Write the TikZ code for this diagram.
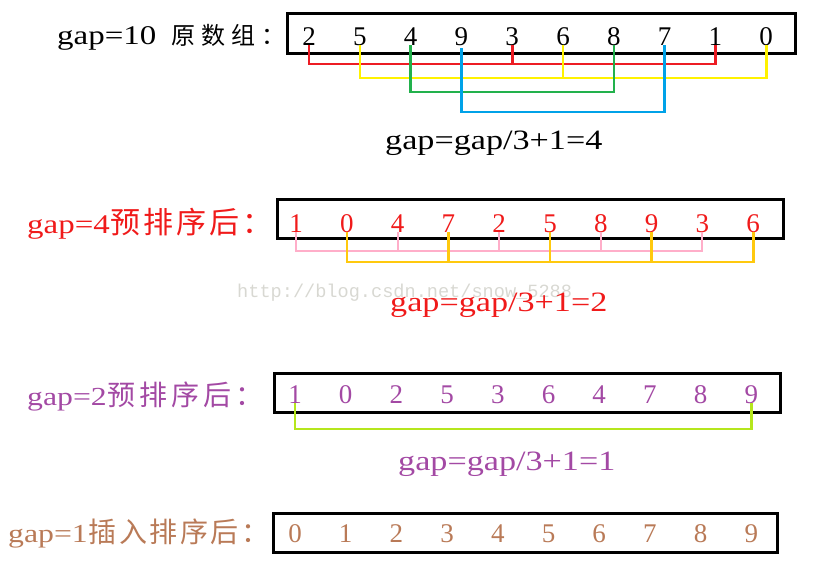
\documentclass[tikz,border=0pt]{standalone}
\usepackage{fontspec}
\setmainfont{Liberation Serif}
\newfontfamily\cjk{Noto Sans CJK SC}
\newfontfamily\latw[FakeStretch=1.22]{Liberation Serif}
\newfontfamily\wmfont{Liberation Mono}
\definecolor{cred}{HTML}{ED1C24}
\definecolor{cyel}{HTML}{FFF200}
\definecolor{cgrn}{HTML}{22B14C}
\definecolor{cblu}{HTML}{00A2E8}
\definecolor{cpink}{HTML}{FFAEC9}
\definecolor{cgold}{HTML}{FFC90E}
\definecolor{clime}{HTML}{B5E61D}
\definecolor{ctred}{HTML}{F01A1A}
\definecolor{cpur}{HTML}{A349A4}
\definecolor{cbrn}{HTML}{B97A57}
\definecolor{cwm}{HTML}{D8D8D2}
\begin{document}
\begin{tikzpicture}[x=1pt,y=-1pt,
  arr/.style={draw=black, line width=3pt, inner sep=0pt},
  dig/.style={inner sep=0pt, anchor=base, font=\fontsize{27}{30}\selectfont},
  lbl/.style={inner sep=0pt, anchor=base west},
  brk/.style={line width=2.6pt, line cap=butt, line join=miter}]
\useasboundingbox (0,0) rectangle (822,568);

% ---------- row 1 ----------
\node[lbl] (l1) at (57,44) {\latw\fontsize{27}{30}\selectfont gap=10\kern15pt{\cjk\fontsize{24}{28}\selectfont 原\kern6pt 数\kern6pt 组\kern6pt ：}};
\node[arr, minimum width=508pt, minimum height=40pt] (b1) at (541,33) {};
\foreach \d [count=\i] in {2,5,4,9,3,6,8,7,1,0}
  \node[dig] (a\i) at ({309+50.8*(\i-1)},45) {\d};
\coordinate (ry) at (0,64);
\coordinate (yy) at (0,78);
\coordinate (gy) at (0,92);
\coordinate (by) at (0,112);
\draw[brk, cred] (a1.base) -- (a1.base |- ry) -- (a9.base |- ry) -- (a9.base);
\draw[brk, cred] (a5.base) -- (a5.base |- ry);
\draw[brk, cyel] (a2.base) -- (a2.base |- yy) -- (a10.base |- yy) -- (a10.base);
\draw[brk, cyel] (a6.base) -- (a6.base |- yy);
\draw[brk, cgrn] (a3.base) -- (a3.base |- gy) -- (a7.base |- gy) -- (a7.base);
\draw[brk, cblu] ([yshift=-3pt]a4.base) -- (a4.base |- by) -- (a8.base |- by) -- (a8.base);
\node[lbl, font=\latw\fontsize{28}{30}\selectfont] (f1) at (385,149) {gap=gap/3+1=4};

% ---------- row 2 ----------
\node[lbl, text=ctred] (l2) at (27,233) {\latw\fontsize{27}{32}\selectfont gap=4{\cjk\fontsize{30}{32}\selectfont \kern1pt 预\kern3pt 排\kern3pt 序\kern3pt 后\kern3pt ：}};
\node[arr, minimum width=506pt, minimum height=39pt] (b2) at (530,218.5) {};
\foreach \d [count=\i] in {1,0,4,7,2,5,8,9,3,6}
  \node[dig, text=ctred] (c\i) at ({296+50.8*(\i-1)},232) {\d};
\coordinate (py) at (0,251);
\coordinate (oy) at (0,262);
\draw[brk, cpink, line width=2pt] (c1.base) -- (c1.base |- py) -- (c9.base |- py) -- (c9.base);
\foreach \k in {3,5,7}
  \draw[brk, cpink, line width=2pt] (c\k.base) -- (c\k.base |- py);
\draw[brk, cgold] (c2.base) -- (c2.base |- oy) -- (c10.base |- oy) -- (c10.base);
\foreach \k in {4,6,8}
  \draw[brk, cgold] (c\k.base) -- (c\k.base |- oy);
\node[lbl, font=\wmfont\fontsize{18.6}{22}\selectfont, text=cwm] (wm) at (237,297) {http://blog.csdn.net/snow\_5288};
\node[lbl, font=\latw\fontsize{28}{30}\selectfont, text=ctred] (f2) at (390,311) {gap=gap/3+1=2};

% ---------- row 3 ----------
\node[lbl, text=cpur] (l3) at (27,405) {\latw\fontsize{26}{32}\selectfont gap=2{\cjk\fontsize{28}{32}\selectfont \kern1pt 预\kern4pt 排\kern4pt 序\kern4pt 后\kern4pt ：}};
\node[arr, minimum width=506pt, minimum height=39pt] (b3) at (527,392.5) {};
\foreach \d [count=\i] in {1,0,2,5,3,6,4,7,8,9}
  \node[dig, text=cpur] (e\i) at ({295+50.7*(\i-1)},403) {\d};
\coordinate (ly) at (0,429);
\draw[brk, clime] (e1.base) -- (e1.base |- ly) -- (e10.base |- ly) -- (e10.base);
\node[lbl, font=\latw\fontsize{28}{30}\selectfont, text=cpur] (f3) at (398,470) {gap=gap/3+1=1};

% ---------- row 4 ----------
\node[lbl, text=cbrn] (l4) at (8,542) {\latw\fontsize{26}{32}\selectfont gap=1{\cjk\fontsize{28}{32}\selectfont \kern1pt 插\kern2.5pt 入\kern2.5pt 排\kern2.5pt 序\kern2.5pt 后\kern2.5pt ：}};
\node[arr, minimum width=504pt, minimum height=39pt] (b4) at (525,532.5) {};
\foreach \d [count=\i] in {0,1,2,3,4,5,6,7,8,9}
  \node[dig, text=cbrn] (g\i) at ({295+50.7*(\i-1)},542) {\d};
\end{tikzpicture}
\end{document}
